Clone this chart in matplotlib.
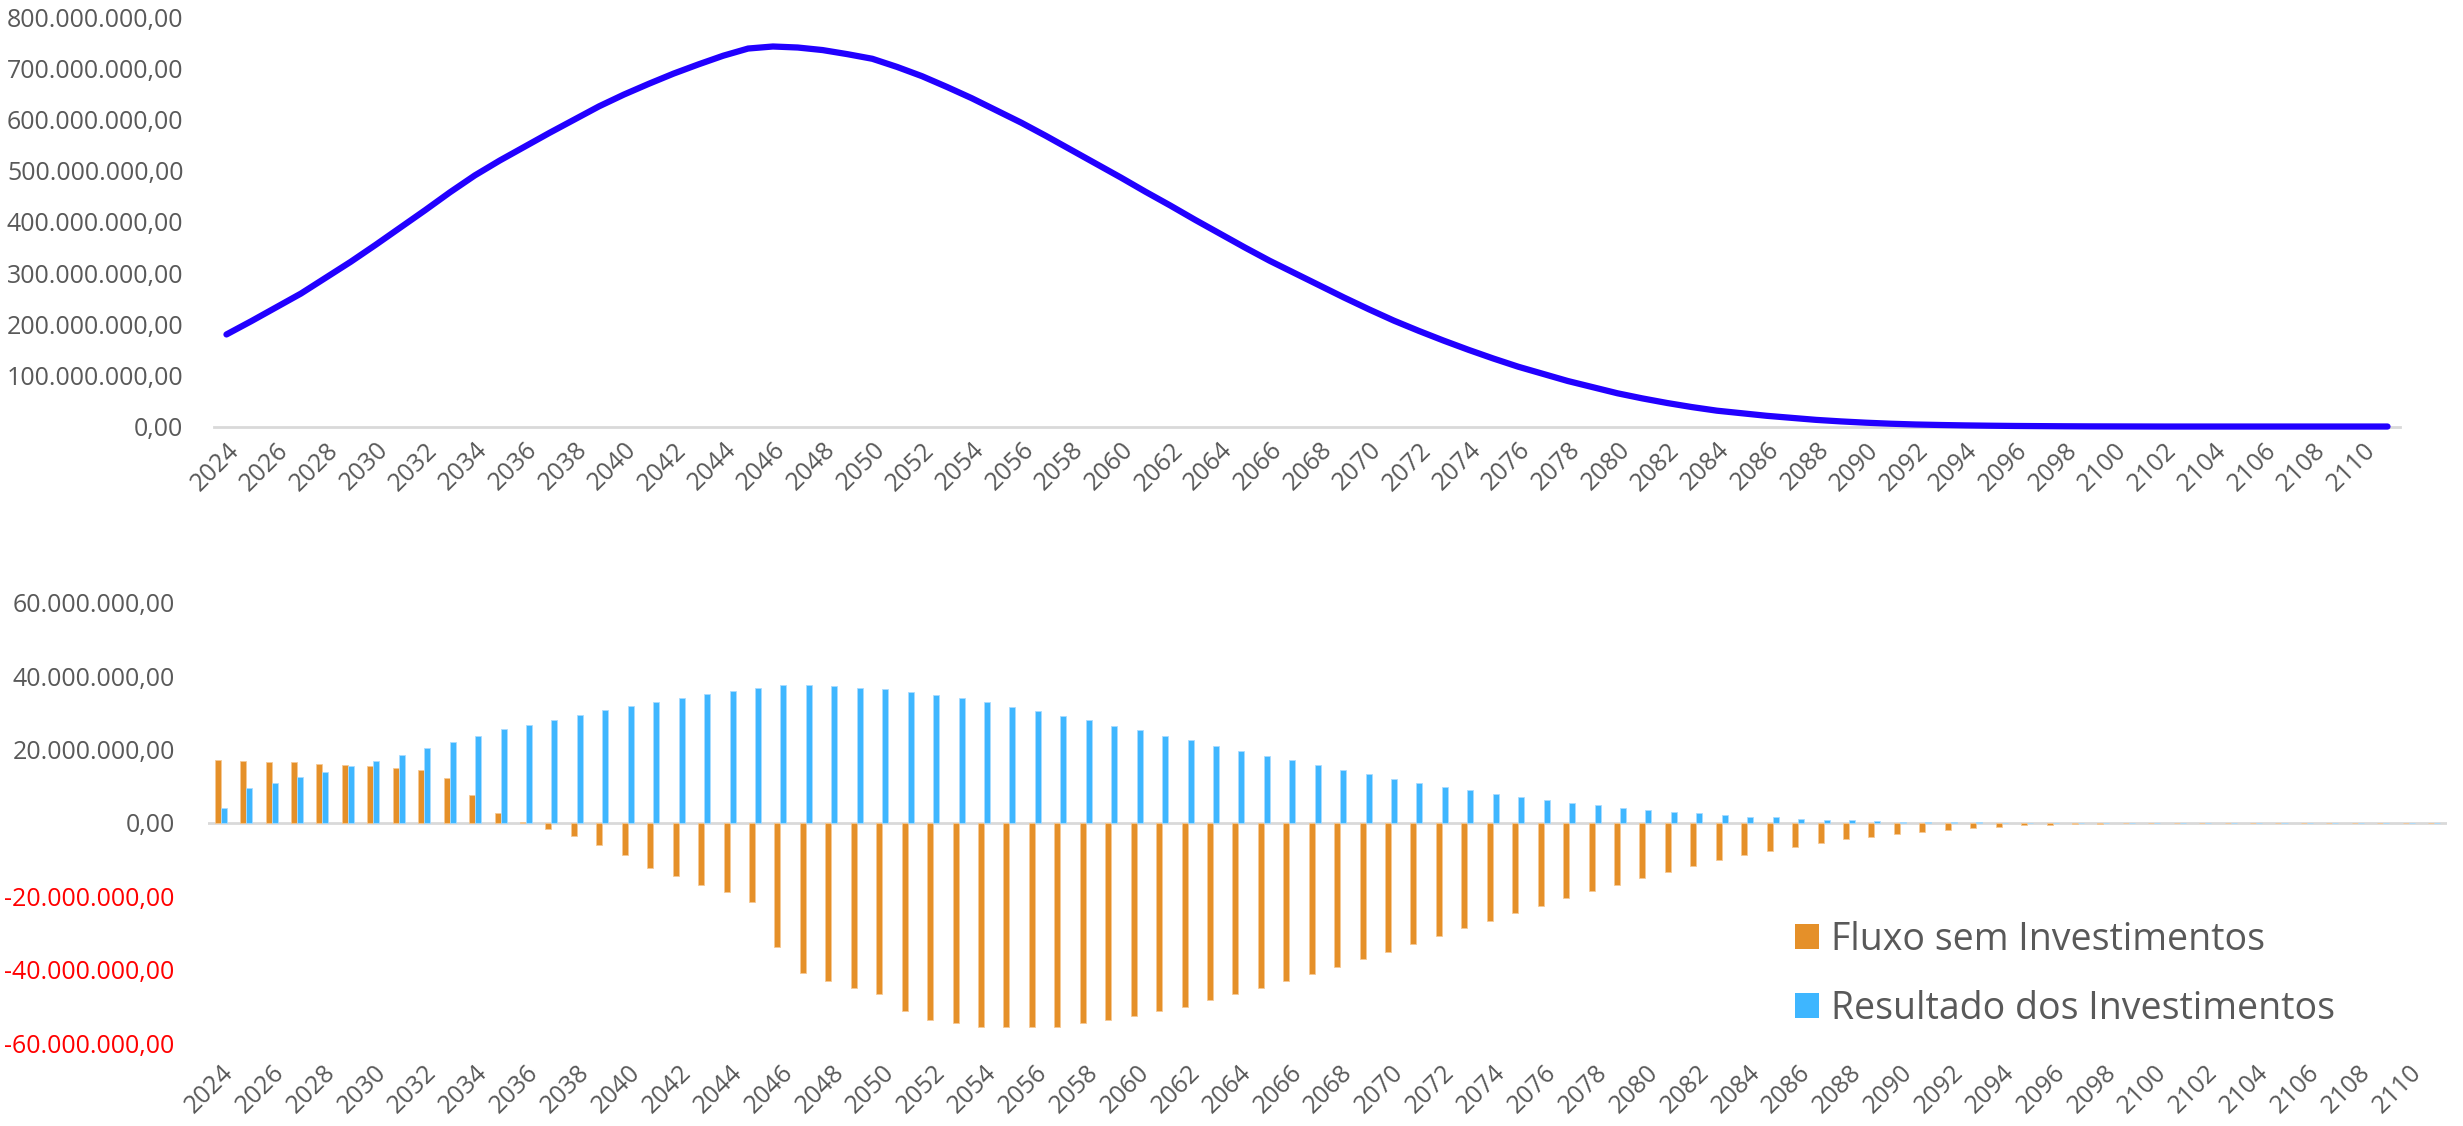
import matplotlib
matplotlib.use("Agg")
import matplotlib.pyplot as plt
import numpy as np
from matplotlib.patches import Patch
from matplotlib.ticker import FuncFormatter

plt.rcParams["font.family"] = ["Open Sans", "DejaVu Sans"]

# anos do fluxo (2024-2111)
anos = list(range(2024, 2112))

# saldo acumulado, em milhoes
saldo = [180, 206, 233, 260, 291, 322, 355, 389, 423, 458,
         491, 520, 547, 574, 600, 626, 649, 670, 690, 708,
         725, 739, 743, 741, 736, 728, 719, 703, 685, 664,
         642, 618, 594, 568, 541, 514, 487, 459, 432, 404,
         377, 350, 324, 300, 276, 252, 229, 207, 187, 168,
         150, 133, 117, 103, 89, 77, 65, 55, 46, 38,
         31, 26, 21, 17, 13, 10, 7.5, 5.5, 4, 3,
         2.2, 1.6, 1.1, 0.8, 0.5, 0.3, 0.2, 0.1,
         0, 0, 0, 0, 0, 0, 0, 0, 0, 0]

# fluxo sem investimentos, em milhoes
fluxo = [17.3, 16.8, 16.7, 16.5, 16.2, 15.9, 15.5, 15.1, 14.5, 12.3,
         7.6, 2.6, 0.3, -1.7, -3.6, -5.9, -8.8, -12.2, -14.4, -17.0,
         -18.7, -21.5, -33.8, -40.8, -43.1, -45.1, -46.5, -51.2, -53.7, -54.5,
         -55.6, -55.6, -55.5, -55.5, -54.5, -53.6, -52.5, -51.3, -50.1, -48.4,
         -46.7, -44.9, -43.1, -41.2, -39.3, -37.2, -35.1, -32.9, -30.8, -28.7,
         -26.6, -24.5, -22.5, -20.5, -18.6, -16.8, -15.0, -13.3, -11.7, -10.2,
         -8.8, -7.6, -6.5, -5.5, -4.5, -3.8, -3.1, -2.5, -1.9, -1.4,
         -1.0, -0.6, -0.45, -0.3, -0.2, -0.1,
         0, 0, 0, 0, 0, 0, 0, 0, 0, 0, 0, 0]

# resultado dos investimentos, em milhoes
resultado = [4.1, 9.6, 10.9, 12.5, 13.9, 15.5, 17.0, 18.6, 20.5, 22.2,
             23.8, 25.5, 26.8, 28.2, 29.5, 30.7, 32.0, 33.1, 34.2, 35.1,
             36.0, 36.9, 37.5, 37.5, 37.3, 36.9, 36.5, 35.8, 35.0, 34.0,
             32.9, 31.7, 30.5, 29.3, 28.0, 26.5, 25.3, 23.8, 22.5, 21.1,
             19.7, 18.4, 17.1, 15.8, 14.5, 13.4, 12.1, 11.0, 9.9, 9.0,
             8.0, 7.1, 6.4, 5.5, 4.8, 4.1, 3.5, 3.0, 2.6, 2.2,
             1.7, 1.5, 1.1, 0.9, 0.7, 0.5, 0.4, 0.3, 0.2, 0.15,
             0.1, 0.07, 0.05, 0.03, 0.02,
             0, 0, 0, 0, 0, 0, 0, 0, 0, 0, 0, 0, 0]

labels_serie = ["Fluxo sem Investimentos", "Resultado dos Investimentos"]

cinza = "#595959"
cor_fluxo = "#E59029"
cor_result = "#3EB6FF"


def brl(v, pos=None):
    s = f"{v:,.2f}"
    return s.replace(",", "X").replace(".", ",").replace("X", ".")


def estilo(ax, pad_y):
    for s in ["top", "right", "left"]:
        ax.spines[s].set_visible(False)
    ax.tick_params(axis="both", length=0, labelsize=18, labelcolor=cinza)
    ax.tick_params(axis="y", pad=pad_y)
    ax.yaxis.set_major_formatter(FuncFormatter(brl))
    ax.set_xticks(x[::2])
    ax.set_xticklabels([str(a) for a in anos[::2]], rotation=45,
                       ha="right", rotation_mode="anchor")


x = np.arange(len(anos))

fig = plt.figure(figsize=(24.63, 11.26), dpi=100)

# saldo acumulado
ax1 = fig.add_axes([0.0869, 0.6212, 0.8875, 0.3634])
ax1.plot(x, np.array(saldo) * 1e6, color="#2200FF", lw=4.5,
         solid_capstyle="round", clip_on=False, zorder=3)
ax1.set_xlim(-0.5, len(anos) - 0.5)
ax1.set_ylim(0, 800e6)
ax1.set_yticks(np.arange(0, 800e6 + 1, 100e6))
estilo(ax1, 22)
ax1.spines["bottom"].set_color("#D9D9D9")
ax1.spines["bottom"].set_linewidth(2)
ax1.tick_params(axis="x", pad=8)

# fluxos anuais
ax2 = fig.add_axes([0.08445, 0.0737, 0.9090, 0.3908])
w = 0.236
ax2.bar(x - w / 2, np.array(fluxo) * 1e6, width=w, color=cor_fluxo,
        edgecolor="#F6C995", linewidth=0.6, zorder=2)
ax2.bar(x + w / 2, np.array(resultado) * 1e6, width=w, color=cor_result,
        edgecolor="#A9DCFF", linewidth=0.6, zorder=2)
ax2.axhline(0, color="#D9D9D9", lw=2, zorder=1)
ax2.set_xlim(-0.5, len(anos) - 0.5)
ax2.set_ylim(-60e6, 60e6)
ax2.set_yticks(np.arange(-60e6, 60e6 + 1, 20e6))
estilo(ax2, 24)
ax2.spines["bottom"].set_visible(False)
ax2.tick_params(axis="x", pad=12)
for t, v in zip(ax2.get_yticklabels(), ax2.get_yticks()):
    if v < 0:
        t.set_color("#FF0000")

handles = [Patch(facecolor=cor_fluxo), Patch(facecolor=cor_result)]
fig.legend(handles, labels_serie, loc="center left",
           bbox_to_anchor=(0.7288, 0.1345), frameon=False, fontsize=27,
           handlelength=0.65, handleheight=0.65, handletextpad=0.3,
           labelspacing=0.83, borderpad=0, borderaxespad=0,
           labelcolor=cinza)

fig.savefig("out.png", dpi=100)
